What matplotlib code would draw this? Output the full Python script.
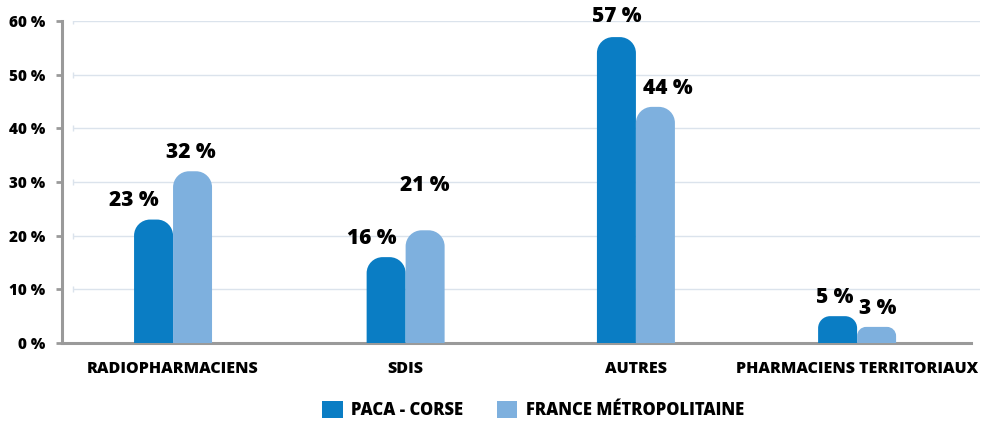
import matplotlib
matplotlib.use("Agg")
import matplotlib.pyplot as plt
from matplotlib.path import Path
from matplotlib.patches import PathPatch, Patch
import numpy as np

categories = ["RADIOPHARMACIENS", "SDIS", "AUTRES", "PHARMACIENS TERRITORIAUX"]
series_names = ["PACA - CORSE", "FRANCE MÉTROPOLITAINE"]
paca = [23, 16, 57, 5]
france = [32, 21, 44, 3]
yticks = [0, 10, 20, 30, 40, 50, 60]
ytick_labels = ["0 %", "10 %", "20 %", "30 %", "40 %", "50 %", "60 %"]

colors = ["#0a7dc4", "#7eb0de"]
FONT = ["Open Sans", "DejaVu Sans"]
plt.rcParams['font.family'] = FONT

fig = plt.figure(figsize=(9.85, 4.24), dpi=100)
ax = fig.add_axes([62/985, 1 - 343/424, (980-62)/985, (343-21)/424])
ax.set_xlim(-0.487, 3.539)
ax.set_ylim(0, 60)

bw = 0.171
# category slot positions (layout, slightly uneven as in the reference)
x = np.array([0.0, 1.02, 2.03, 3.0])

fig.canvas.draw()
ppx = ax.transData.transform([(0, 0), (1, 1)])
px_per_x = ppx[1, 0] - ppx[0, 0]
px_per_y = ppx[1, 1] - ppx[0, 1]

def rounded_bar(ax, xc, h, w, color, rpx=12):
    rx = min(rpx / px_per_x, w / 2)
    ry = min(rpx / px_per_y, h)
    x0, x1 = xc - w / 2, xc + w / 2
    k = 0.5523
    verts = [(x0, 0), (x1, 0), (x1, h - ry),
             (x1, h - ry + k * ry), (x1 - rx + k * rx, h), (x1 - rx, h),
             (x0 + rx, h),
             (x0 + rx - k * rx, h), (x0, h - ry + k * ry), (x0, h - ry),
             (x0, 0)]
    codes = [Path.MOVETO, Path.LINETO, Path.LINETO,
             Path.CURVE4, Path.CURVE4, Path.CURVE4,
             Path.LINETO,
             Path.CURVE4, Path.CURVE4, Path.CURVE4,
             Path.CLOSEPOLY]
    ax.add_patch(PathPatch(Path(verts, codes), facecolor=color, edgecolor='none', zorder=3))

for t in yticks[1:]:
    ax.plot([-0.44, 3.539], [t, t], color="#dbe3ec", lw=1.0, zorder=1, solid_capstyle='butt')
    ax.plot([-0.44], [t], marker='|', color="#dbe3ec", ms=5, mew=1.0, zorder=1)

off_paca = [(-14, 6), (-10, 6), (0, 7), (-2, 6)]
off_fr = [(-1, 6), (0, 25), (9, 6), (1, 6)]

for i in range(len(categories)):
    rounded_bar(ax, x[i] - bw / 2, paca[i], bw, colors[0], rpx=16 if paca[i] > 6 else 12)
    rounded_bar(ax, x[i] + bw / 2, france[i], bw, colors[1], rpx=16 if france[i] > 6 else 9)
    ax.annotate(f"{paca[i]} %", (x[i] - bw / 2, paca[i]), xytext=off_paca[i],
                textcoords='offset points', ha='center', va='bottom',
                fontsize=15, fontweight='heavy', color='black')
    ax.annotate(f"{france[i]} %", (x[i] + bw / 2, france[i]), xytext=off_fr[i],
                textcoords='offset points', ha='center', va='bottom',
                fontsize=15, fontweight='heavy', color='black')

for s in ["top", "right"]:
    ax.spines[s].set_visible(False)
ax.spines["left"].set_color("#9a9a9a")
ax.spines["left"].set_linewidth(2.2)
ax.spines["bottom"].set_color("#9a9a9a")
ax.spines["bottom"].set_linewidth(2.2)
ax.spines["bottom"].set_bounds(-0.487, 3.50)

ax.set_yticks(yticks)
ax.set_yticklabels(ytick_labels, fontsize=11, fontweight='heavy')
ax.tick_params(axis='y', length=4, width=2, color="#9a9a9a", pad=8)
ax.set_xticks(x)
ax.set_xticklabels(categories, fontsize=11.5, fontweight='heavy')
ax.tick_params(axis='x', length=0, pad=13)
ax.patch.set_visible(False)

handles = [Patch(facecolor=colors[0], label=series_names[0]),
           Patch(facecolor=colors[1], label=series_names[1])]
fig.legend(handles=handles, loc='center', bbox_to_anchor=(533/985, 1 - 410/424),
           ncol=2, frameon=False, prop={'size': 12, 'weight': 'heavy', 'family': FONT},
           handlelength=1.25, handleheight=1.25, columnspacing=2.0, handletextpad=0.5)

fig.savefig("out.png", dpi=100)
